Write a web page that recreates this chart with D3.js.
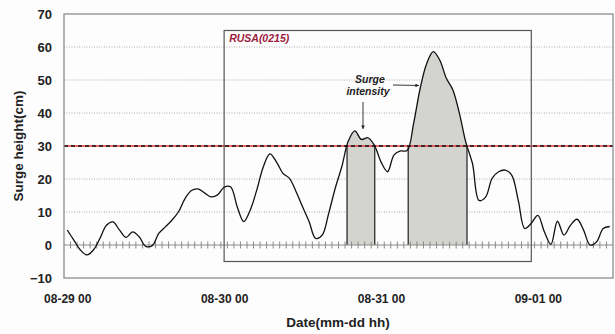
<!DOCTYPE html>
<html>
<head>
<meta charset="utf-8">
<script src="https://cdn.jsdelivr.net/npm/d3@7"></script>
<style>
  body { margin: 0; background: #fdfdfd; }
  svg { display: block; font-family: Arial, "Liberation Sans", sans-serif; }
</style>
</head>
<body>
<div id="chart"></div>
<script>
// hourly surge height (cm), starting 08-29 00
const surge = [
  4.5, 1.5, -1.5, -3, -1.5, 2, 6, 7, 4.5, 2.3, 4, 2.5,
  -0.4, -0.2, 3.5, 5.5, 7.5, 10, 14, 16.5, 17, 15.8, 14.6, 15.2,
  17.5, 17.6, 11.6, 7.1, 10.6, 16.7, 23.7, 27.6, 25.2, 21.7, 20.2, 16.2,
  11.6, 7.1, 2, 3, 9.6, 17.2, 23.7, 31.5, 34.6, 32, 32.5, 30.2,
  25.2, 22.2, 27.3, 28.5, 28.6, 36.9, 47.5, 55, 58.6, 56, 50.5, 47,
  39.9, 31, 24.7, 13.5, 14.5, 20.2, 22.2, 22.7, 21.2, 13.6, 5, 6.6,
  9, 4, 0.2, 7.2, 3, 6, 7.8, 4.5, 0, 1, 5, 5.6,
];
const hours = surge.map((d, i) => i);
const dateHours = [0, 24, 48, 72];
const dateLabels = ['08-29 00', '08-30 00', '08-31 00', '09-01 00'];
const yTicks = [-10, 0, 10, 20, 30, 40, 50, 60, 70];
const gridValues = [10, 20, 40, 50, 60];
const threshold = 30;
const stormWindow = { from: 24, to: 71, low: -5, high: 65 }; // RUSA(0215) box

const W = 615;
const H = 334;
const margin = { top: 14, right: 2, bottom: 56, left: 64 };

const svg = d3.select('#chart')
  .append('svg')
  .attr('width', W)
  .attr('height', H);

svg.append('rect').attr('width', W).attr('height', H).attr('fill', '#fdfdfd');

const x = d3.scalePoint()
  .domain(hours)
  .range([margin.left, W - margin.right])
  .padding(0.5);
const band = d3.scaleBand()
  .domain(hours)
  .range([margin.left, W - margin.right]);
const xh = h => margin.left + band.step() * (h + 0.5); // fractional hour

const y = d3.scaleLinear()
  .domain([-10, 70])
  .range([H - margin.bottom, margin.top]);

// gridlines
svg.append('g')
  .selectAll('line')
  .data(gridValues)
  .join('line')
  .attr('x1', margin.left)
  .attr('x2', W - margin.right)
  .attr('y1', d => y(d))
  .attr('y2', d => y(d))
  .attr('stroke', '#9a9a9a')
  .attr('stroke-width', 0.8)
  .attr('stroke-dasharray', '1,1.5');

// runs above threshold (linear crossing between hourly points)
const runs = [];
let start = null;
for (let i = 1; i < surge.length; i++) {
  const a = surge[i - 1];
  const b = surge[i];
  if (a < threshold && b >= threshold) start = i - 1 + (threshold - a) / (b - a);
  if (a >= threshold && b < threshold && start !== null) {
    runs.push([start, i - 1 + (a - threshold) / (a - b)]);
    start = null;
  }
}

const curve = d3.curveCatmullRom.alpha(0.5);
const area = d3.area()
  .x((d, i) => x(i))
  .y0(y(0))
  .y1(d => y(d))
  .curve(curve);
const line = d3.line()
  .x((d, i) => x(i))
  .y(d => y(d))
  .curve(curve);

const defs = svg.append('defs');
runs.forEach((r, k) => {
  defs.append('clipPath')
    .attr('id', `run${k}`)
    .append('rect')
    .attr('x', xh(r[0]))
    .attr('width', xh(r[1]) - xh(r[0]))
    .attr('y', 0)
    .attr('height', y(0));
  svg.append('path')
    .datum(surge)
    .attr('d', area)
    .attr('clip-path', `url(#run${k})`)
    .attr('fill', '#d3d3cf');
  svg.selectAll(null)
    .data(r)
    .enter()
    .append('line')
    .attr('x1', d => xh(d))
    .attr('x2', d => xh(d))
    .attr('y1', y(0))
    .attr('y2', y(threshold))
    .attr('stroke', '#3a3a3a')
    .attr('stroke-width', 1.4);
});

// zero line with hourly ticks crossing it
svg.append('line')
  .attr('x1', margin.left)
  .attr('x2', W - margin.right)
  .attr('y1', y(0))
  .attr('y2', y(0))
  .attr('stroke', '#8a8a8a')
  .attr('stroke-width', 1);
svg.append('g')
  .selectAll('line')
  .data(hours.slice(1))
  .join('line')
  .attr('x1', d => band(d))
  .attr('x2', d => band(d))
  .attr('y1', y(0) - 3.5)
  .attr('y2', y(0) + 3.5)
  .attr('stroke', '#8a8a8a')
  .attr('stroke-width', 1);

// threshold line: red under black dashes
svg.append('line')
  .attr('x1', margin.left)
  .attr('x2', W - margin.right)
  .attr('y1', y(threshold))
  .attr('y2', y(threshold))
  .attr('stroke', '#e8343c')
  .attr('stroke-width', 1.3);
svg.append('line')
  .attr('x1', margin.left)
  .attr('x2', W - margin.right)
  .attr('y1', y(threshold))
  .attr('y2', y(threshold))
  .attr('stroke', '#111')
  .attr('stroke-width', 1.3)
  .attr('stroke-dasharray', '4,3');

// storm window box
svg.append('rect')
  .attr('x', x(stormWindow.from))
  .attr('y', y(stormWindow.high))
  .attr('width', x(stormWindow.to) - x(stormWindow.from))
  .attr('height', y(stormWindow.low) - y(stormWindow.high))
  .attr('fill', 'none')
  .attr('stroke', '#555')
  .attr('stroke-width', 1.2);

// surge curve
svg.append('path')
  .datum(surge)
  .attr('d', line)
  .attr('fill', 'none')
  .attr('stroke', '#111')
  .attr('stroke-width', 1.3);

// plot frame
svg.append('rect')
  .attr('x', margin.left)
  .attr('y', margin.top)
  .attr('width', W - margin.left - margin.right)
  .attr('height', H - margin.top - margin.bottom)
  .attr('fill', 'none')
  .attr('stroke', '#8c8c8c')
  .attr('stroke-width', 1.3);

// axes
const yAxis = svg.append('g')
  .attr('transform', `translate(${margin.left},0)`)
  .call(d3.axisLeft(y).tickValues(yTicks).tickSize(0).tickPadding(12));
yAxis.select('.domain').remove();
yAxis.selectAll('text')
  .attr('font-size', 13)
  .attr('font-weight', 'bold')
  .attr('font-family', 'Arial, "Liberation Sans", sans-serif')
  .attr('fill', '#222');

const xAxis = svg.append('g')
  .attr('transform', `translate(0,${H - margin.bottom})`)
  .call(d3.axisBottom(x)
    .tickValues(dateHours)
    .tickFormat((d, i) => dateLabels[i])
    .tickSize(0)
    .tickPadding(16));
xAxis.select('.domain').remove();
xAxis.selectAll('text')
  .attr('font-size', 12)
  .attr('font-weight', 'bold')
  .attr('font-family', 'Arial, "Liberation Sans", sans-serif')
  .attr('fill', '#222');

svg.append('text')
  .attr('x', 338)
  .attr('y', 327)
  .attr('text-anchor', 'middle')
  .attr('font-size', 13.5)
  .attr('font-weight', 'bold')
  .attr('fill', '#222')
  .text('Date(mm-dd hh)');

svg.append('text')
  .attr('transform', `translate(23,${y(30)}) rotate(-90)`)
  .attr('text-anchor', 'middle')
  .attr('font-size', 13.5)
  .attr('font-weight', 'bold')
  .attr('fill', '#222')
  .text('Surge height(cm)');

// annotations
svg.append('text')
  .attr('x', x(stormWindow.from) + 5)
  .attr('y', 42)
  .attr('font-size', 10.5)
  .attr('font-weight', 'bold')
  .attr('font-style', 'italic')
  .attr('fill', '#9b1b3b')
  .text('RUSA(0215)');

const note = svg.append('text')
  .attr('text-anchor', 'middle')
  .attr('font-size', 10.5)
  .attr('font-weight', 'bold')
  .attr('font-style', 'italic')
  .attr('fill', '#222');
note.append('tspan').attr('x', 370).attr('y', 83).text('Surge');
note.append('tspan').attr('x', 368).attr('y', 95).text('intensity');

defs.append('marker')
  .attr('id', 'arrow')
  .attr('viewBox', '0 0 10 10')
  .attr('refX', 10)
  .attr('refY', 5)
  .attr('markerWidth', 4)
  .attr('markerHeight', 4)
  .attr('orient', 'auto')
  .append('path')
  .attr('d', 'M0,0L10,5L0,10z')
  .attr('fill', '#222');

svg.append('line')
  .attr('x1', 363).attr('y1', 102)
  .attr('x2', 363).attr('y2', 129)
  .attr('stroke', '#222')
  .attr('stroke-width', 0.9)
  .attr('marker-end', 'url(#arrow)');
svg.append('line')
  .attr('x1', 393).attr('y1', 85)
  .attr('x2', 419).attr('y2', 85.5)
  .attr('stroke', '#222')
  .attr('stroke-width', 0.9)
  .attr('marker-end', 'url(#arrow)');
</script>
</body>
</html>
